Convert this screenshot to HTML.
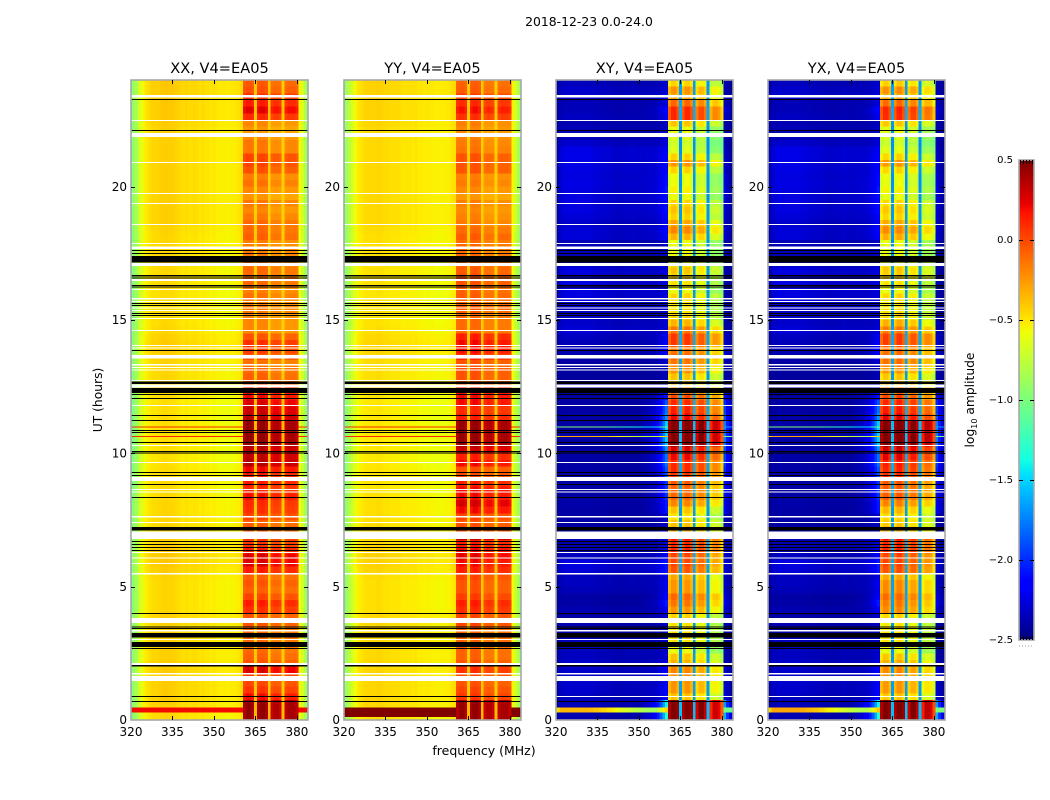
<!DOCTYPE html>
<html lang="en">
<head>
<meta charset="utf-8">
<title>2018-12-23 0.0-24.0</title>
<style>
html,body{margin:0;padding:0;background:#fff;}
svg{display:block;}
text{font-family:"DejaVu Sans","Liberation Sans",sans-serif;fill:#000;}
</style>
</head>
<body>
<svg id="fig" xmlns="http://www.w3.org/2000/svg" width="1050" height="800" viewBox="0 0 1050 800">
<rect x="0" y="0" width="1050" height="800" fill="#fff"/>
<text x="589" y="26" font-size="12.4" text-anchor="middle">2018-12-23 0.0-24.0</text>
<text transform="translate(102,400) rotate(-90)" font-size="12.3" text-anchor="middle">UT (hours)</text>
<text x="484" y="755" font-size="12.5" text-anchor="middle">frequency (MHz)</text>
<text transform="translate(974,400) rotate(-90)" font-size="12.3" text-anchor="middle">log<tspan font-size="8" dy="3">10</tspan><tspan dy="-3"> amplitude</tspan></text>
<g id="panels"></g>
<g id="colorbar"></g>
</svg>
<script>
// Axis tick labels
const freqTicks = [320, 335, 350, 365, 380];
const hourTicks = [0, 5, 10, 15, 20];
const colorTicks = [0.5, 0, -0.5, -1, -1.5, -2, -2.5];
const panelTitles = ['XX, V4=EA05', 'YY, V4=EA05', 'XY, V4=EA05', 'YX, V4=EA05'];

// Channel base level (log10 amplitude), one per MHz 320..384
const baseXX = [-1.0,-.95,-.85,-.72,-.63,-.56,-.52,-.49,-.47,-.47,-.46,-.45,-.44,-.44,-.45,-.45,-.46,-.47,-.49,-.5,-.48,-.5,-.5,-.49,-.5,-.52,-.5,-.52,-.52,-.54,-.52,-.54,-.55,-.55,-.55,-.56,-.55,-.55,-.54,-.52,-.5,-.3,-.3,-.3,-.3,-.45,-.3,-.3,-.3,-.3,-.45,-.3,-.3,-.3,-.3,-.45,-.3,-.3,-.3,-.3,-.3,-.58,-.7,-.85,-.95];
const baseYY = [-.98,-.9,-.8,-.7,-.61,-.55,-.52,-.5,-.48,-.48,-.48,-.48,-.47,-.47,-.48,-.49,-.49,-.5,-.5,-.5,-.5,-.52,-.52,-.52,-.52,-.53,-.52,-.54,-.54,-.55,-.54,-.55,-.55,-.56,-.56,-.56,-.56,-.55,-.55,-.52,-.5,-.3,-.3,-.3,-.3,-.45,-.3,-.3,-.3,-.3,-.45,-.3,-.3,-.3,-.3,-.45,-.3,-.3,-.3,-.3,-.3,-.58,-.7,-.85,-.95];
const baseCross = [-2.45,-2.45,-2.45,-2.45,-2.45,-2.45,-2.45,-2.45,-2.45,-2.45,-2.45,-2.45,-2.45,-2.45,-2.45,-2.45,-2.45,-2.45,-2.45,-2.45,-2.45,-2.45,-2.45,-2.45,-2.45,-2.45,-2.45,-2.45,-2.45,-2.45,-2.45,-2.45,-2.45,-2.45,-2.45,-2.45,-2.45,-2.45,-2.45,-2.45,-2.45,-1.3,-1.3,-1.3,-1.3,-1.85,-1.3,-1.3,-1.3,-1.3,-1.85,-1.3,-1.3,-1.3,-1.3,-1.85,-1.3,-1.3,-1.3,-1.3,-1.3,-2.45,-2.45,-2.45,-2.45];

// Slow drift of the parallel-hand continuum per quarter hour
const parallelDrift = [
 0,0,.02,.03, .03,.03,.03,.03, .02,.02,.02,.02, .02,.02,.02,.02, 0,0,0,0, 0,.01,.03,.04,
 .04,.04,.02,.02, 0,0,0,0, 0,-.01,-.02,-.02, -.02,-.02,-.03,-.03, -.03,-.03,-.03,-.03, -.03,-.03,-.03,-.03,
 -.02,-.02,0,0, 0,.01,.02,.03, .03,.02,0,-.01, -.02,-.02,-.02,-.02, -.02,-.01,-.01,-.01, 0,0,0,0,
 0,.01,.02,.02, .02,.02,.02,.02, .02,.02,.02,.02, .02,.02,.02,.02, .02,.03,.04,.04, .04,.04,.04,.04];

// How strongly each channel follows the band level of its time row
const weightParallel = [0,0,0,0,0,0,0,0,0,0,0,0,0,0,0,0,0,0,0,0,0,0,0,0,0,0,0,0,0,0,0,0,0,0,0,0,0,0,0,0,0,.9,1,1,.9,.1,.9,1,1,.9,.1,.9,1,1,.9,.1,.9,1,1,1,.9,0,0,0,0];
const weightCross = [0,0,0,0,0,0,0,0,0,0,0,0,0,0,0,0,0,0,0,0,0,0,0,0,0,0,0,0,0,0,0,0,0,0,0,0,0,0,0,0,0,.88,1,1,.9,.12,.88,1,1,.9,.12,.88,1,1,.9,.12,.88,1,1,.95,.78,0,0,0,0];

// Band level per quarter hour, row 0 = 0.00-0.25 h, four values per hour
const levelXX = [
 .5,.5,.5,.25, .12,.06,.12,.32, .02,-.02,-.05,-.05, -.05,-.05,.02,.02, .14,.2,.07,-.02, .02,-.02,.2,.32,
 .32,.2,.12,.12, .02,-.02,.07,.14, .16,.24,.16,.2, .2,.26,.42,.4, .4,.5,.5,.5, .5,.4,.36,.32,
 .26,.26,.02,-.02, -.05,-.08,.03,.1, .14,.02,-.15,-.15, -.15,-.1,-.12,-.08, -.12,-.05,-.05,-.05, -.1,-.1,-.1,-.12,
 -.02,-.05,-.05,-.1, -.15,-.1,-.2,-.15, -.08,-.12,.03,.07, .07,-.1,-.1,-.15, -.2,-.15,.16,.3, .2,.14,.03,0];
const levelYY = [
 .5,.5,.5,.12, .07,.03,.07,.14, .03,-.02,-.02,-.02, -.02,-.02,.07,.07, .16,.2,.1,.03, .03,.07,.2,.26,
 .3,.26,.2,.4, .07,.03,.07,.26, .34,.26,.26,.2, .07,.03,.26,.2, .36,.5,.5,.5, .5,.2,.16,.26,
 .26,.26,.03,.03, .03,.03,.16,.24, .26,.2,-.05,-.05, -.05,0,-.02,0, -.02,.03,.03,0, -.05,-.05,-.05,-.05,
 0,-.05,-.1,-.12, -.15,-.12,-.2,-.15, -.1,-.12,.03,.03, .03,-.08,-.1,-.12, -.15,-.12,.14,.24, .16,.1,0,-.02];
const levelXY = [
 .5,.5,.5,-.5, -.35,-.35,-.3,-.3, -.45,-.5,-.7,-.6, -.6,-.6,-.6,-.55, -.35,-.25,-.2,-.35, -.35,-.4,-.15,-.1,
 -.1,0,0,.05, -.4,-.5,-.6,-.5, -.3,-.2,-.2,-.15, -.05,0,0,.1, .15,.5,.5,.5, .5,.1,.02,0,
 -.1,-.3,-.5,-.5, -.35,-.25,-.2,-.25, -.05,-.05,-.25,-.45, -.55,-.6,-.6,-.55, -.7,-.6,-.55,-.5, -.7,-.7,-.7,-.7,
 -.45,-.3,-.4,-.55, -.5,-.55,-.7,-.65, -.7,-.7,-.55,-.35, -.55,-.75,-.8,-.75, -.7,-.5,0,0, -.2,-.4,-.35,-.55];
const levelYX = [
 .5,.5,.5,-.5, -.35,-.35,-.3,-.3, -.42,-.5,-.7,-.6, -.6,-.6,-.6,-.55, -.3,-.25,-.2,-.3, -.3,-.4,-.12,-.08,
 -.08,.02,.02,.08, -.4,-.5,-.55,-.45, -.28,-.15,-.15,-.12, 0,.02,.05,.15, .2,.5,.5,.5, .5,.15,.05,.02,
 -.08,-.25,-.45,-.5, -.35,-.22,-.2,-.22, -.05,-.05,-.25,-.42, -.55,-.58,-.6,-.55, -.68,-.6,-.52,-.5, -.7,-.7,-.7,-.7,
 -.42,-.3,-.4,-.55, -.5,-.55,-.7,-.65, -.7,-.68,-.55,-.35, -.55,-.72,-.8,-.75, -.7,-.5,0,.02, -.2,-.4,-.32,-.52];

// Per-band offsets to the band level (four sub-bands)
const bandEdges = [360.5, 365.5, 370.5, 375.5];
const bandOffsetXX = [-.04, -.04, -.12, -.1];
const bandOffsetYY = [-.05, -.04, -.13, -.1];
const bandOffsetXY = [.12, .12, .0, -.2];
const bandOffsetYX = [.1, .12, .02, -.15];

// Cross-hand background brightening: row strength and channel shape
const leftGlowRows = [
 .08,.08,.1,.12, .15,.15,.15,.15, .15,.12,.12,.12, .08,.05,.08,.05, .08,.05,.05,.1, .12,.12,.18,.2,
 .12,.1,.08,.08, .05,.05,.05,.05, .06,.05,.05,.06, .05,.05,.05,.05, .05,.05,.05,.05, .05,.05,.05,.05,
 .03,.03,.03,.03, .04,.05,.06,.08, .1,.12,.18,.15, .15,.12,.18,.2, .2,.2,.18,.2, .1,.1,.1,.1,
 .18,.18,.15,.18, .2,.2,.2,.2, .21,.2,.21,.21, .22,.22,.15,.1, .1,.08,.12,.1, .1,.15,.15,.11];
const rightGlowRows = [
 1.2,1.2,1.1,.25, .25,.2,.25,.25, .15,.1,.08,.08, .08,.08,.08,.15, .25,.4,.3,.2, .2,.15,.3,.3,
 .25,.2,.15,.15, .08,.1,.15,.4, .4,.5,.5,.5, .6,.6,.7,.7, .8,1.0,1.0,1.0, 1.0,.8,.7,.6,
 .4,.2,.1,.08, .08,.15,.25,.3, .25,.2,.08,.08, .08,.08,.08,.08, .08,.1,.1,.1, .08,.08,.08,.08,
 .2,.25,.2,.2, .25,.25,.25,.3, .25,.25,.2,.2, .2,.15,.1,.1, .08,.08,.2,.3, .15,.15,.1,.1];
const leftGlowShape = [.3,.5,.8,1,1,1,1,1,1,1,1,1,1,.9,.9,.85,.85,.8,.8,.75,.75,.7,.65,.65,.7,.7,.7,.75,.75,.7,.7,.7,.65,.65,.65,.6,.6,.6,.6,.6,.6,0,0,0,0,0,0,0,0,0,0,0,0,0,0,0,0,0,0,0,0,.1,.05,0,0];
const rightGlowShape = [0,0,0,0,0,0,0,0,0,0,0,0,0,0,0,0,0,0,0,0,0,0,0,0,0,0,0,0,0,0,0,.02,.05,.08,.1,.15,.2,.3,.45,.65,.9,0,0,0,0,0,0,0,0,0,0,0,0,0,0,0,0,0,0,0,0,.7,.4,.2,.1];

// Bright interference lines: hour range and level per product, fade per channel on cross hands
const lineStart = [.28, 10.97, 10.61];
const lineEnd = [.46, 11.0, 10.65];
const lineXX = [.2, .1, .1];
const lineYY = [.5, .1, .1];
const lineXY = [-.35, -.95, -.3];
const lineYX = [-.3, -.95, -.3];
const lineBottomYY = .11;
const crossLineFade = [-.3,-.1,0,0,0,0,0,0,0,0,0,0,-.02,-.02,-.05,-.05,-.08,-.1,-.1,-.15,-.15,-.2,-.25,-.25,-.3,-.3,-.35,-.35,-.4,-.4,-.45,-.45,-.5,-.5,-.5,-.5,-.5,-.4,-.3,-.2,-.1];

// Flagged (blank) time ranges in hours [start, end]
const blankStart = [23.35,22.46,21.86,20.89,19.73,19.35,18.56,17.85,17.67,17.03,16.46,16.13,15.77,15.68,15.43,15.34,15.03,14.59,14.03,13.93,13.55,13.30,13.2,13.11,12.71,12.46,11.78,10.27,9.64,8.96,8.63,8.53,7.59,7.39,6.79,6.26,6.06,5.85,5.46,3.63,3.32,3.0,2.07,1.71,1.47];
const blankEnd = [23.44,22.5,22.01,20.92,19.76,19.39,18.6,17.89,17.75,17.14,16.54,16.16,15.83,15.71,15.47,15.38,15.08,14.63,14.06,13.97,13.69,13.35,13.24,13.14,12.75,12.59,11.81,10.31,9.68,9.12,8.66,8.57,7.65,7.43,7.06,6.3,6.09,5.89,5.51,3.83,3.38,3.04,2.13,1.76,1.65];
// Zero-amplitude (black) time ranges in hours
const blackStart = [23.25,22.09,17.58,17.48,17.15,16.64,16.56,16.27,16.22,15.6,15.53,15.23,15.15,13.84,12.6,12.27,12.19,12.04,11.4,11.21,10.84,10.76,10.39,10.05,9.99,9.26,9.15,8.81,8.33,7.11,6.67,6.56,6.45,6.34,3.97,3.47,3.41,3.09,2.74,2.66,2.01,.86,.67];
const blackEnd = [23.29,22.13,17.63,17.52,17.4,16.69,16.59,16.32,16.26,15.64,15.56,15.26,15.19,13.88,12.69,12.45,12.23,12.08,11.44,11.25,10.88,10.8,10.43,10.09,10.03,9.3,9.19,8.85,8.36,7.24,6.71,6.6,6.49,6.38,4.01,3.51,3.45,3.26,2.93,2.7,2.06,.9,.71];

const NS = 'http://www.w3.org/2000/svg';
const panelLeft = [131, 344, 556, 768];
const axW = 177, axTop = 80, axH = 640;
const vMin = -2.5, vMax = 0.5;
const fMin = 320, fMax = 384, hMax = 24, rowHours = 0.25;

function xScale(i, f) { return panelLeft[i] + (f - fMin) / (fMax - fMin) * axW; }
function yScale(h) { return axTop + axH - h / hMax * axH; }

function seg(x0, x1, v) { return x0 + (x1 - x0) * v; }
function jet(t) {
  t = Math.max(0, Math.min(1, t));
  function pw(pts) {
    for (let k = 1; k < pts.length; k++) {
      if (t <= pts[k][0]) {
        return seg(pts[k-1][1], pts[k][1], (t - pts[k-1][0]) / (pts[k][0] - pts[k-1][0]));
      }
    }
    return pts[pts.length-1][1];
  }
  const r = pw([[0,0],[.35,0],[.66,1],[.89,1],[1,.5]]);
  const g = pw([[0,0],[.125,0],[.375,1],[.64,1],[.91,0],[1,0]]);
  const b = pw([[0,.5],[.11,1],[.34,1],[.65,0],[1,0]]);
  return 'rgb(' + Math.round(r*255) + ',' + Math.round(g*255) + ',' + Math.round(b*255) + ')';
}
function colorOf(v) { return jet((v - vMin) / (vMax - vMin)); }

function mk(parent, tag, attrs) {
  const el = document.createElementNS(NS, tag);
  for (const k in attrs) el.setAttribute(k, attrs[k]);
  parent.appendChild(el);
  return el;
}
function bandIndex(f) {
  let b = 0;
  for (let k = 0; k < bandEdges.length; k++) if (f > bandEdges[k]) b = k;
  return b;
}

const panelBases = [baseXX, baseYY, baseCross, baseCross];
const panelWeights = [weightParallel, weightParallel, weightCross, weightCross];
const panelLevels = [levelXX, levelYY, levelXY, levelYX];
const panelOffsets = [bandOffsetXX, bandOffsetYY, bandOffsetXY, bandOffsetYX];
const panelLines = [lineXX, lineYY, lineXY, lineYX];

function cellValue(p, c, r) {
  const f = fMin + c;
  const base = panelBases[p][c];
  const w = panelWeights[p][c];
  let v = base + w * (panelLevels[p][r] + panelOffsets[p][bandIndex(f)] - base);
  if (p >= 2 && w === 0) {
    v += leftGlowRows[r] * leftGlowShape[c] + rightGlowRows[r] * rightGlowShape[c];
  }
  if (p < 2 && w === 0) {
    v += parallelDrift[r];
  }
  return v;
}

const panelsG = document.getElementById('panels');
panelTitles.forEach(function (title, p) {
  const g = mk(panelsG, 'g', {});
  
  

  const heat = mk(g, 'g', {'shape-rendering': 'crispEdges'});
  
  

  const rows = panelLevels[p].length;
  for (let r = 0; r < rows; r++) {
    const yTop = yScale((r + 1) * rowHours), yBot = yScale(r * rowHours);
    for (let c = 0; c < baseXX.length; c++) {
      const f = fMin + c;
      const xa = xScale(p, Math.max(fMin, f - 0.5)), xb = xScale(p, Math.min(fMax, f + 0.5));
      const cell = mk(heat, 'rect', {x: xa, y: yTop, width: xb - xa, height: yBot - yTop, fill: colorOf(cellValue(p, c, r))});
      
      
    }
  }

  // interference lines (outside the band)
  lineStart.forEach(function (start, n) {
    const hStart = (p === 1 && n === 0) ? lineBottomYY : start;
    for (let c = 0; c < baseXX.length; c++) {
      const f = fMin + c;
      if (panelWeights[p][c] > 0) continue;
      const fade = (p >= 2 && c < crossLineFade.length) ? crossLineFade[c] : (p >= 2 ? -0.7 : 0);
      const xa = xScale(p, Math.max(fMin, f - 0.5)), xb = xScale(p, Math.min(fMax, f + 0.5));
      const seg1 = mk(heat, 'rect', {x: xa, y: yScale(lineEnd[n]), width: xb - xa, height: yScale(hStart) - yScale(lineEnd[n]), fill: colorOf(panelLines[p][n] + fade)});
      
      
    }
  });

  const left = panelLeft[p];
  // flagged ranges
  blankStart.forEach(function (s, n) {
    const band = mk(heat, 'rect', {x: left, y: yScale(blankEnd[n]), width: axW, height: yScale(s) - yScale(blankEnd[n]), fill: '#fff'});
    
    
  });
  blackStart.forEach(function (s, n) {
    const crossWhite = p >= 2 && s === 0.86;
    const band = mk(heat, 'rect', {x: left, y: yScale(blackEnd[n]), width: axW, height: yScale(s) - yScale(blackEnd[n]), fill: crossWhite ? '#fff' : '#000'});
    
    
  });

  // frame
  const frame = mk(g, 'rect', {x: left, y: axTop, width: axW, height: axH, fill: 'none', stroke: '#a8a8a8', 'stroke-width': 1.6});
  
  

  // x ticks
  freqTicks.forEach(function (t) {
    const x = Math.round(xScale(p, t)) + 0.5;
    if (t !== fMin) {
      const tb = mk(g, 'line', {x1: x, x2: x, y1: axTop + axH, y2: axTop + axH - 4, stroke: '#000', 'stroke-width': 1});
      
      
      const tt = mk(g, 'line', {x1: x, x2: x, y1: axTop, y2: axTop + 4, stroke: '#000', 'stroke-width': 1});
      
      
    }
    const lab = mk(g, 'text', {x: xScale(p, t), y: 736, 'font-size': 12, 'text-anchor': 'middle'});
    lab.textContent = String(t);
    
    
  });
  // y ticks
  hourTicks.forEach(function (t) {
    const y = Math.round(yScale(t)) + 0.5;
    if (t !== 0) {
      const tl = mk(g, 'line', {x1: left, x2: left + 4, y1: y, y2: y, stroke: '#000', 'stroke-width': 1});
      
      
      const tr = mk(g, 'line', {x1: left + axW, x2: left + axW - 4, y1: y, y2: y, stroke: '#000', 'stroke-width': 1});
      
      
    }
    const lab = mk(g, 'text', {x: left - 4, y: yScale(t) + 4.2, 'font-size': 12, 'text-anchor': 'end'});
    lab.textContent = String(t);
    
    
  });
  // title
  const ttl = mk(g, 'text', {x: left + axW / 2, y: 73, 'font-size': 14.6, 'text-anchor': 'middle'});
  ttl.textContent = title;
  
  
});

// Colorbar
const cb = document.getElementById('colorbar');
const cbX = 1019, cbW = 15, cbTop = 160, cbH = 480;
function cbY(v) { return cbTop + (vMax - v) / (vMax - vMin) * cbH; }
const ramp = mk(cb, 'g', {'shape-rendering': 'crispEdges'});


for (let i = 0; i < 240; i++) {
  const v = vMax - (i + 0.5) / 240 * (vMax - vMin);
  const s = mk(ramp, 'rect', {x: cbX, y: cbTop + i * cbH / 240, width: cbW, height: cbH / 240 + 0.5, fill: colorOf(v)});
  
  
}
const cbFrame = mk(cb, 'rect', {x: cbX, y: cbTop, width: cbW, height: cbH, fill: 'none', stroke: '#a8a8a8', 'stroke-width': 1.6});


colorTicks.forEach(function (v) {
  const y = Math.round(cbY(v)) + 0.5;
  if (v !== vMax && v !== vMin) {
    const a = mk(cb, 'line', {x1: cbX, x2: cbX + 4, y1: y, y2: y, stroke: '#000', 'stroke-width': 1});
    
    
    const b = mk(cb, 'line', {x1: cbX + cbW, x2: cbX + cbW - 4, y1: y, y2: y, stroke: '#000', 'stroke-width': 1});
    
    
  }
  const lab = mk(cb, 'text', {x: 1013, y: cbY(v) + 3, 'font-size': 10, 'text-anchor': 'end'});
  lab.textContent = (v < 0 ? '\u2212' : '') + Math.abs(v).toFixed(1);
  
  
});
// comb marks at the colorbar ends
[1, 4, 7, 10, 13].forEach(function (dx) {
  const top = mk(cb, 'line', {x1: cbX + dx + 0.5, x2: cbX + dx + 0.5, y1: cbTop, y2: cbTop + 4, stroke: '#000', 'stroke-width': 1});
  
  
  const bottom = mk(cb, 'line', {x1: cbX + dx + 0.5, x2: cbX + dx + 0.5, y1: cbTop + cbH, y2: cbTop + cbH - 4, stroke: '#000', 'stroke-width': 1});
  
  
});
const cbDots = mk(cb, 'line', {x1: cbX, x2: cbX + cbW, y1: 646, y2: 646, stroke: '#999', 'stroke-width': 1, 'stroke-dasharray': '1 2'});


</script>
</body>
</html>
